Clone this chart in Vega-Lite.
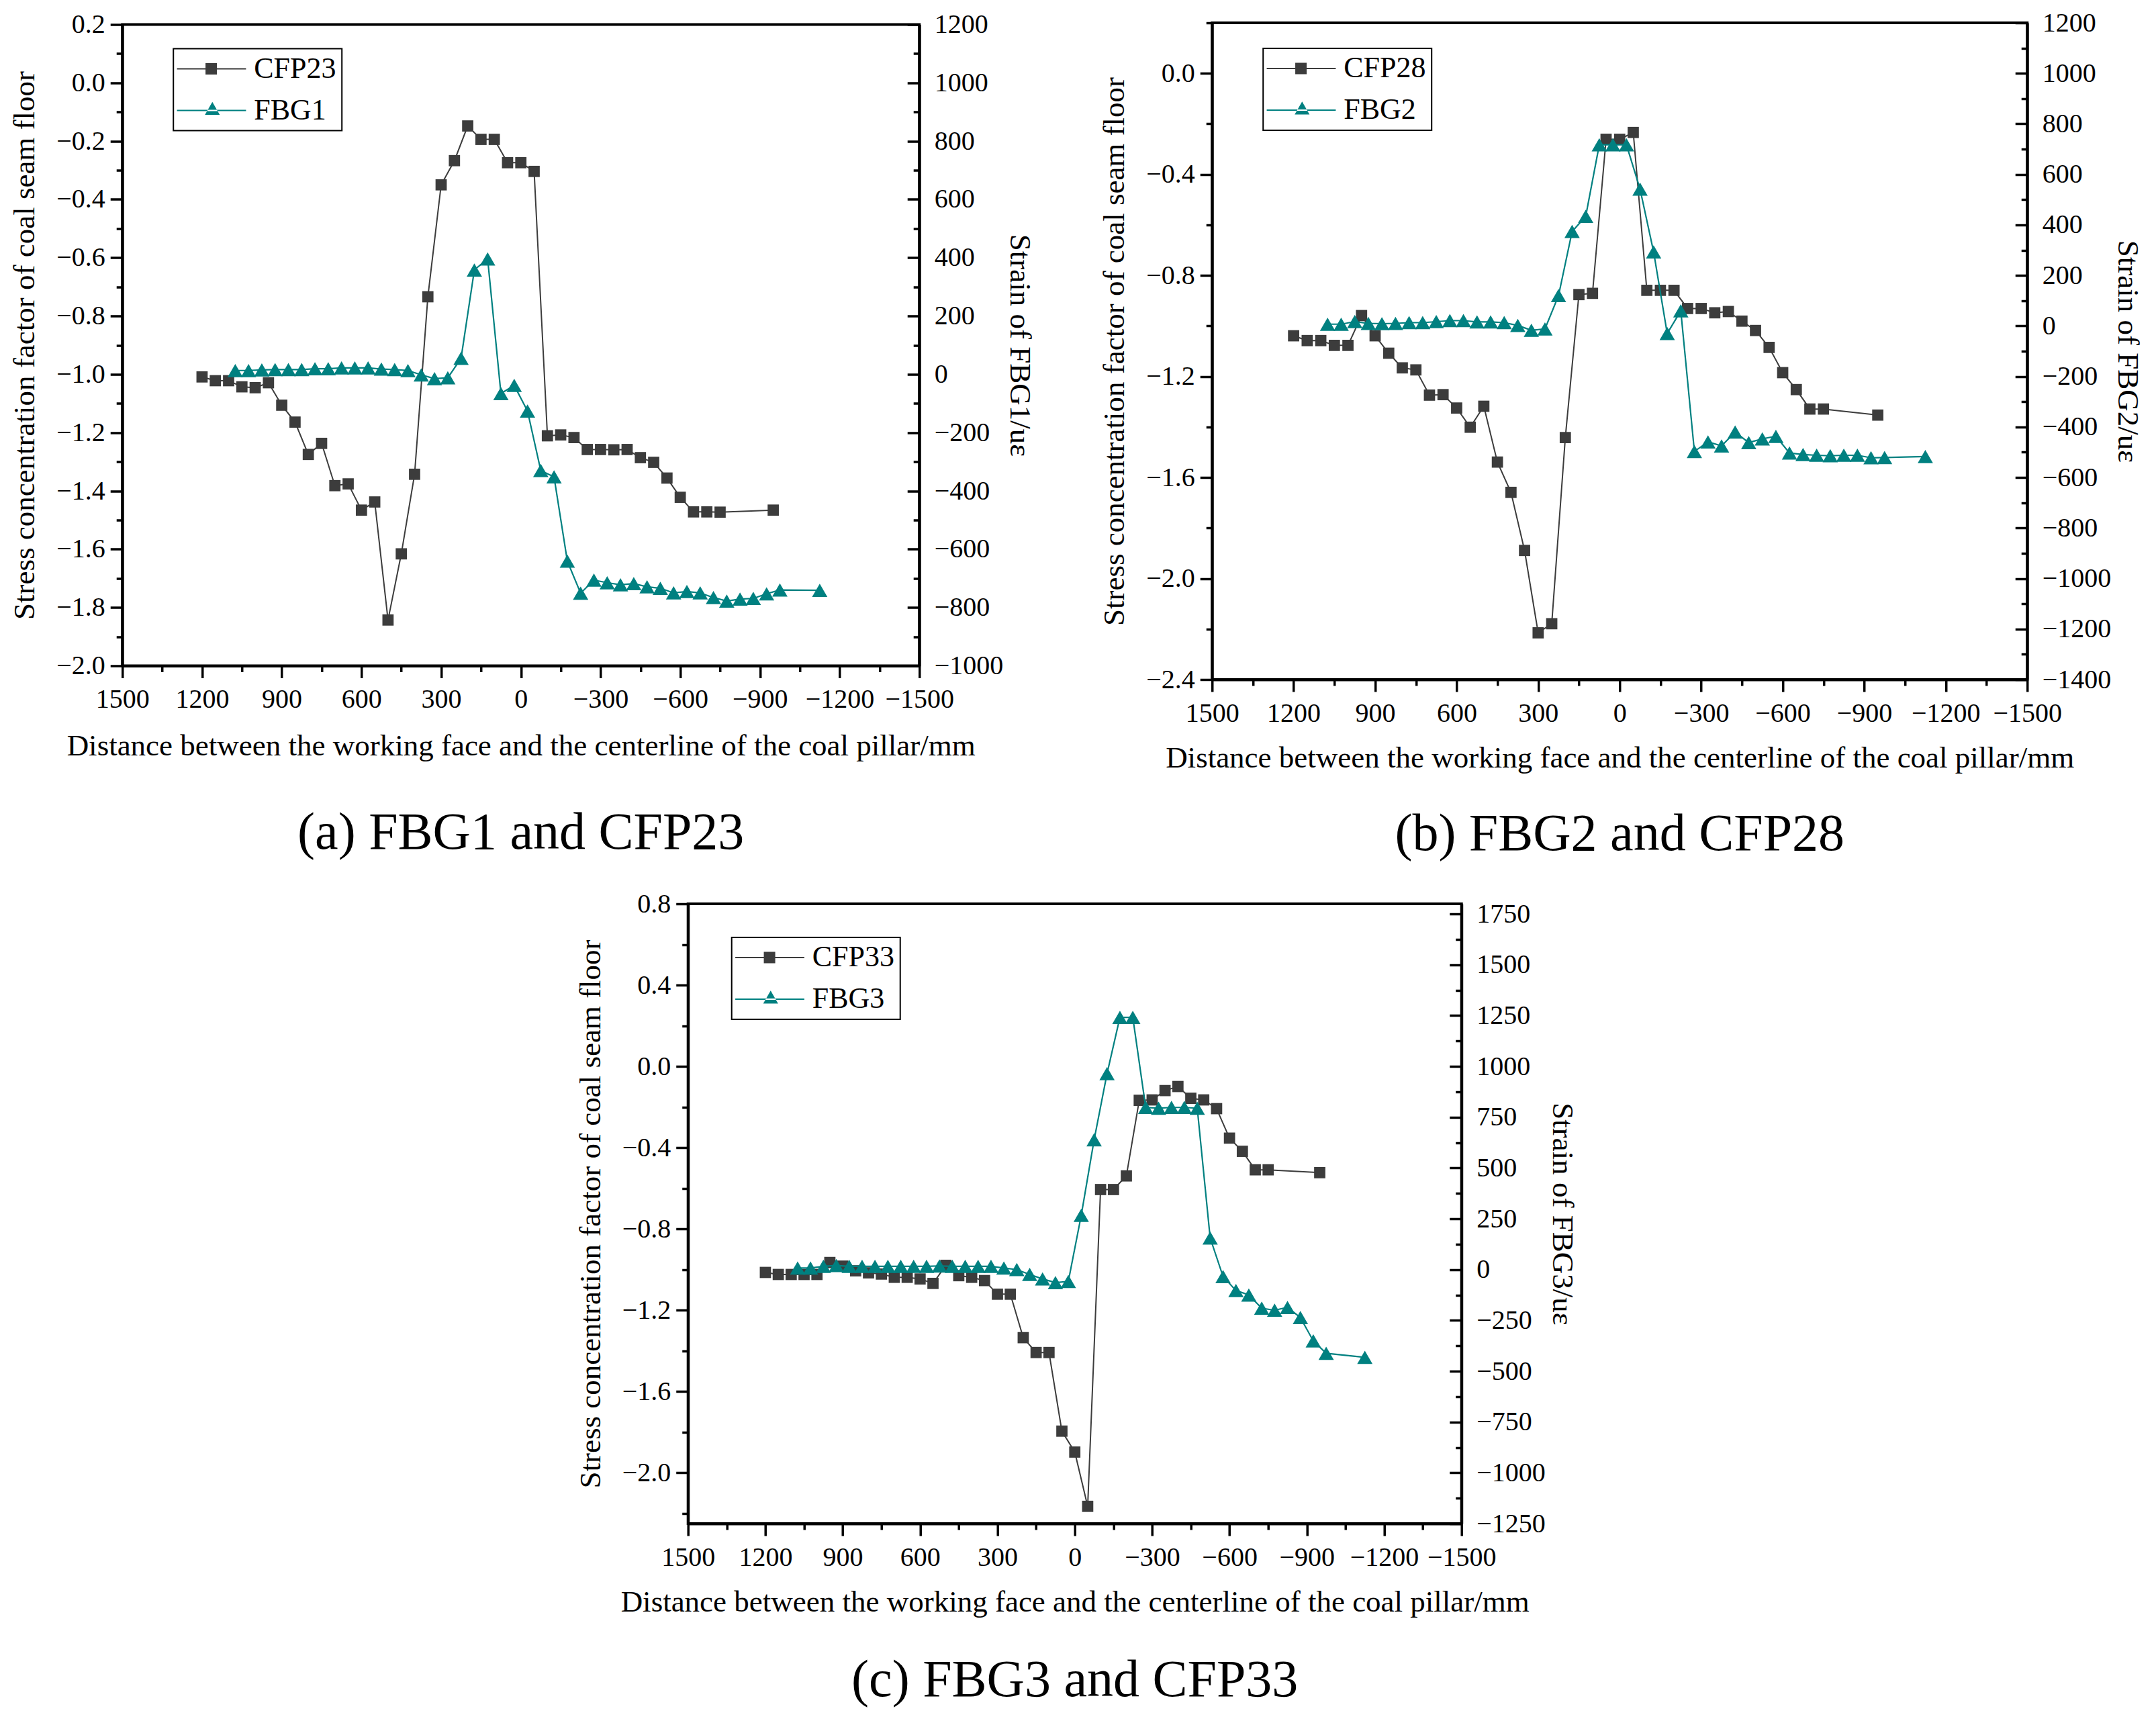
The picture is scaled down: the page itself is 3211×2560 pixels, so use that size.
{
  "$schema": "https://vega.github.io/schema/vega-lite/v6.json",
  "background": "white",
  "padding": {"left": 12, "top": 12, "right": 10, "bottom": 10},
  "datasets": {
    "a_cfp": [
      {"d": 1200, "v": -1.009}, {"d": 1150, "v": -1.022}, {"d": 1100, "v": -1.022}, {"d": 1050, "v": -1.043},
      {"d": 1000, "v": -1.046}, {"d": 950, "v": -1.029}, {"d": 900, "v": -1.106}, {"d": 850, "v": -1.164},
      {"d": 800, "v": -1.275}, {"d": 750, "v": -1.237}, {"d": 700, "v": -1.382}, {"d": 650, "v": -1.376},
      {"d": 600, "v": -1.466}, {"d": 550, "v": -1.438}, {"d": 500, "v": -1.843}, {"d": 450, "v": -1.616},
      {"d": 400, "v": -1.343}, {"d": 350, "v": -0.734}, {"d": 300, "v": -0.35}, {"d": 250, "v": -0.267},
      {"d": 200, "v": -0.148}, {"d": 150, "v": -0.194}, {"d": 100, "v": -0.194}, {"d": 50, "v": -0.274},
      {"d": 0, "v": -0.274}, {"d": -50, "v": -0.304}, {"d": -100, "v": -1.211}, {"d": -150, "v": -1.208},
      {"d": -200, "v": -1.217}, {"d": -250, "v": -1.258}, {"d": -300, "v": -1.258}, {"d": -350, "v": -1.259},
      {"d": -400, "v": -1.258}, {"d": -450, "v": -1.286}, {"d": -500, "v": -1.302}, {"d": -550, "v": -1.356},
      {"d": -600, "v": -1.422}, {"d": -650, "v": -1.472}, {"d": -700, "v": -1.472}, {"d": -750, "v": -1.473},
      {"d": -950, "v": -1.466}
    ],
    "a_fbg": [
      {"d": 1075, "v": 13}, {"d": 1025, "v": 13}, {"d": 975, "v": 15}, {"d": 925, "v": 16},
      {"d": 875, "v": 16}, {"d": 825, "v": 16}, {"d": 775, "v": 19}, {"d": 725, "v": 19},
      {"d": 675, "v": 22}, {"d": 625, "v": 22}, {"d": 575, "v": 22}, {"d": 525, "v": 18},
      {"d": 475, "v": 16}, {"d": 425, "v": 13}, {"d": 375, "v": -2}, {"d": 325, "v": -15},
      {"d": 275, "v": -12}, {"d": 225, "v": 55}, {"d": 175, "v": 358}, {"d": 125, "v": 396},
      {"d": 75, "v": -66}, {"d": 25, "v": -38}, {"d": -25, "v": -126}, {"d": -75, "v": -330},
      {"d": -125, "v": -352}, {"d": -175, "v": -641}, {"d": -225, "v": -751}, {"d": -275, "v": -706},
      {"d": -325, "v": -715}, {"d": -375, "v": -722}, {"d": -425, "v": -718}, {"d": -475, "v": -729},
      {"d": -525, "v": -734}, {"d": -575, "v": -750}, {"d": -625, "v": -745}, {"d": -675, "v": -750},
      {"d": -725, "v": -766}, {"d": -775, "v": -778}, {"d": -825, "v": -771}, {"d": -875, "v": -769},
      {"d": -925, "v": -753}, {"d": -975, "v": -740}, {"d": -1125, "v": -741}
    ],
    "b_cfp": [
      {"d": 1200, "v": -1.039}, {"d": 1150, "v": -1.058}, {"d": 1100, "v": -1.058}, {"d": 1050, "v": -1.077},
      {"d": 1000, "v": -1.077}, {"d": 950, "v": -0.959}, {"d": 900, "v": -1.039}, {"d": 850, "v": -1.108},
      {"d": 800, "v": -1.166}, {"d": 750, "v": -1.174}, {"d": 700, "v": -1.274}, {"d": 650, "v": -1.272},
      {"d": 600, "v": -1.325}, {"d": 550, "v": -1.401}, {"d": 500, "v": -1.318}, {"d": 450, "v": -1.539},
      {"d": 400, "v": -1.659}, {"d": 350, "v": -1.889}, {"d": 300, "v": -2.215}, {"d": 250, "v": -2.179},
      {"d": 200, "v": -1.442}, {"d": 150, "v": -0.876}, {"d": 100, "v": -0.871}, {"d": 50, "v": -0.261},
      {"d": 0, "v": -0.261}, {"d": -50, "v": -0.234}, {"d": -100, "v": -0.859}, {"d": -150, "v": -0.859},
      {"d": -200, "v": -0.859}, {"d": -250, "v": -0.931}, {"d": -300, "v": -0.931}, {"d": -350, "v": -0.948},
      {"d": -400, "v": -0.943}, {"d": -450, "v": -0.981}, {"d": -500, "v": -1.018}, {"d": -550, "v": -1.085},
      {"d": -600, "v": -1.185}, {"d": -650, "v": -1.252}, {"d": -700, "v": -1.329}, {"d": -750, "v": -1.329},
      {"d": -950, "v": -1.353}
    ],
    "b_fbg": [
      {"d": 1075, "v": 7}, {"d": 1025, "v": 7}, {"d": 975, "v": 17}, {"d": 925, "v": 10},
      {"d": 875, "v": 9}, {"d": 825, "v": 10}, {"d": 775, "v": 13}, {"d": 725, "v": 13},
      {"d": 675, "v": 17}, {"d": 625, "v": 21}, {"d": 575, "v": 21}, {"d": 525, "v": 16},
      {"d": 475, "v": 16}, {"d": 425, "v": 13}, {"d": 375, "v": 2}, {"d": 325, "v": -17},
      {"d": 275, "v": -12}, {"d": 225, "v": 120}, {"d": 175, "v": 374}, {"d": 125, "v": 434},
      {"d": 75, "v": 717}, {"d": 25, "v": 717}, {"d": -25, "v": 717}, {"d": -75, "v": 542},
      {"d": -125, "v": 293}, {"d": -175, "v": -30}, {"d": -225, "v": 60}, {"d": -275, "v": -497},
      {"d": -325, "v": -459}, {"d": -375, "v": -475}, {"d": -425, "v": -420}, {"d": -475, "v": -462},
      {"d": -525, "v": -447}, {"d": -575, "v": -437}, {"d": -625, "v": -503}, {"d": -675, "v": -509},
      {"d": -725, "v": -512}, {"d": -775, "v": -514}, {"d": -825, "v": -512}, {"d": -875, "v": -512},
      {"d": -925, "v": -522}, {"d": -975, "v": -521}, {"d": -1125, "v": -517}
    ],
    "c_cfp": [
      {"d": 1200, "v": -1.014}, {"d": 1150, "v": -1.024}, {"d": 1100, "v": -1.024}, {"d": 1050, "v": -1.024},
      {"d": 1000, "v": -1.024}, {"d": 950, "v": -0.965}, {"d": 900, "v": -0.983}, {"d": 850, "v": -1.006},
      {"d": 800, "v": -1.016}, {"d": 750, "v": -1.022}, {"d": 700, "v": -1.038}, {"d": 650, "v": -1.038},
      {"d": 600, "v": -1.046}, {"d": 550, "v": -1.068}, {"d": 500, "v": -0.979}, {"d": 450, "v": -1.03},
      {"d": 400, "v": -1.038}, {"d": 350, "v": -1.054}, {"d": 300, "v": -1.121}, {"d": 250, "v": -1.121},
      {"d": 200, "v": -1.335}, {"d": 150, "v": -1.408}, {"d": 100, "v": -1.408}, {"d": 50, "v": -1.795},
      {"d": 0, "v": -1.898}, {"d": -50, "v": -2.165}, {"d": -100, "v": -0.606}, {"d": -150, "v": -0.606},
      {"d": -200, "v": -0.539}, {"d": -250, "v": -0.167}, {"d": -300, "v": -0.165}, {"d": -350, "v": -0.119},
      {"d": -400, "v": -0.099}, {"d": -450, "v": -0.157}, {"d": -500, "v": -0.165}, {"d": -550, "v": -0.208},
      {"d": -600, "v": -0.353}, {"d": -650, "v": -0.418}, {"d": -700, "v": -0.509}, {"d": -750, "v": -0.509},
      {"d": -950, "v": -0.523}
    ],
    "c_fbg": [
      {"d": 1075, "v": 8}, {"d": 1025, "v": 8}, {"d": 975, "v": 16}, {"d": 925, "v": 20},
      {"d": 875, "v": 16}, {"d": 825, "v": 16}, {"d": 775, "v": 16}, {"d": 725, "v": 16},
      {"d": 675, "v": 16}, {"d": 625, "v": 16}, {"d": 575, "v": 16}, {"d": 525, "v": 18},
      {"d": 475, "v": 16}, {"d": 425, "v": 16}, {"d": 375, "v": 16}, {"d": 325, "v": 16},
      {"d": 275, "v": 8}, {"d": 225, "v": 0}, {"d": 175, "v": -24}, {"d": 125, "v": -46},
      {"d": 75, "v": -64}, {"d": 25, "v": -58}, {"d": -25, "v": 267}, {"d": -75, "v": 639},
      {"d": -125, "v": 964}, {"d": -175, "v": 1241}, {"d": -225, "v": 1241}, {"d": -275, "v": 798},
      {"d": -325, "v": 794}, {"d": -375, "v": 798}, {"d": -425, "v": 798}, {"d": -475, "v": 794},
      {"d": -525, "v": 156}, {"d": -575, "v": -34}, {"d": -625, "v": -103}, {"d": -675, "v": -125},
      {"d": -725, "v": -190}, {"d": -775, "v": -200}, {"d": -825, "v": -186}, {"d": -875, "v": -236},
      {"d": -925, "v": -351}, {"d": -975, "v": -412}, {"d": -1125, "v": -432}
    ]
  },
  "vconcat": [
    {
      "hconcat": [
        {
          "width": 1187, "height": 955,
          "title": {"text": "(a) FBG1 and CFP23", "orient": "bottom", "offset": 68},
          "encoding": {
            "x": {"field": "d", "type": "quantitative",
              "scale": {"domain": [-1500, 1500], "reverse": true, "nice": false, "zero": false},
              "axis": {"orient": "bottom", "title": "Distance between the working face and the centerline of the coal pillar/mm",
                "values": [-1500,-1350,-1200,-1050,-900,-750,-600,-450,-300,-150,0,150,300,450,600,750,900,1050,1200,1350,1500],
                "labelExpr": "datum.value % 300 == 0 ? format(datum.value, 'd') : ''",
                "tickSize": {"condition": {"test": "datum.value % 300 == 0", "value": 18}, "value": 9},
                "labelPadding": 12, "titlePadding": 27}}
          },
          "layer": [
            {
              "data": {"name": "a_cfp"},
              "encoding": {
                "y": {"field": "v", "type": "quantitative",
                  "scale": {"domain": [-2, 0.2], "nice": false, "zero": false},
                  "axis": {"orient": "left", "title": "Stress concentration factor of coal seam floor",
                    "values": [-2,-1.9,-1.8,-1.7,-1.6,-1.5,-1.4,-1.3,-1.2,-1.1,-1,-0.9,-0.8,-0.7,-0.6,-0.5,-0.4,-0.3,-0.2,-0.1,0,0.1,0.2],
                    "labelExpr": "abs(round(datum.value*10)) % 2 == 0 ? format(datum.value, '.1f') : ''",
                    "tickSize": {"condition": {"test": "abs(round(datum.value*10)) % 2 == 0", "value": 18}, "value": 9},
                    "labelPadding": 8, "titlePadding": 24}}
              },
              "layer": [
                {"data": {"values": [{}]},
                 "mark": {"type": "rule", "color": "#9b1c1c", "strokeWidth": 2.2, "strokeDash": [9, 6]},
                 "encoding": {"x": {"datum": 1500}, "x2": {"datum": -1500}, "y": {"datum": -1}}},
                {"mark": {"type": "line", "color": "#3c3c3c", "strokeWidth": 2}},
                {"mark": {"type": "point", "shape": "square", "filled": true, "size": 280, "color": "#3c3c3c", "opacity": 1}},
                {"data": {"values": [{"series": "CFP23"}, {"series": "FBG1"}]},
                 "mark": {"type": "point", "filled": true, "size": 0},
                 "encoding": {
                   "color": {"field": "series", "type": "nominal",
                     "scale": {"domain": ["CFP23", "FBG1"], "range": ["#3c3c3c", "#008080"]},
                     "legend": {"orient": "none", "legendX": 76, "legendY": 36, "title": null}},
                   "shape": {"field": "series", "type": "nominal",
                     "scale": {"domain": ["CFP23", "FBG1"], "range": ["M-2.9,-0.13H9.2V0.13H-2.9Z M2.1,-1H4.1V1H2.1Z", "M-2.9,-0.13H9.2V0.13H-2.9Z M2,0.75H4.6L3.3,-1.5Z"]},
                     "legend": {"orient": "none", "legendX": 76, "legendY": 36, "title": null}}
                 }}
              ]
            },
            {
              "data": {"name": "a_fbg"},
              "encoding": {
                "y": {"field": "v", "type": "quantitative",
                  "scale": {"domain": [-1000, 1200], "nice": false, "zero": false},
                  "axis": {"orient": "right", "title": "Strain of FBG1/uε",
                    "values": [-1000,-900,-800,-700,-600,-500,-400,-300,-200,-100,0,100,200,300,400,500,600,700,800,900,1000,1100,1200],
                    "labelExpr": "datum.value % 200 == 0 ? format(datum.value, 'd') : ''",
                    "tickSize": {"condition": {"test": "datum.value % 200 == 0", "value": -18}, "value": -9},
                    "labelPadding": 40, "titlePadding": 2}}
              },
              "layer": [
                {"mark": {"type": "line", "color": "#008080", "strokeWidth": 2.2}},
                {"mark": {"type": "point", "shape": "triangle-up", "filled": true, "size": 520, "color": "#008080", "opacity": 1}}
              ]
            }
          ],
          "resolve": {"scale": {"y": "independent"}}
        },
        {
          "width": 1214, "height": 978,
          "title": {"text": "(b) FBG2 and CFP28", "orient": "bottom", "offset": 53},
          "encoding": {
            "x": {"field": "d", "type": "quantitative",
              "scale": {"domain": [-1500, 1500], "reverse": true, "nice": false, "zero": false},
              "axis": {"orient": "bottom", "title": "Distance between the working face and the centerline of the coal pillar/mm",
                "values": [-1500,-1350,-1200,-1050,-900,-750,-600,-450,-300,-150,0,150,300,450,600,750,900,1050,1200,1350,1500],
                "labelExpr": "datum.value % 300 == 0 ? format(datum.value, 'd') : ''",
                "tickSize": {"condition": {"test": "datum.value % 300 == 0", "value": 18}, "value": 9},
                "labelPadding": 12, "titlePadding": 24}}
          },
          "layer": [
            {
              "data": {"name": "b_cfp"},
              "encoding": {
                "y": {"field": "v", "type": "quantitative",
                  "scale": {"domain": [-2.4, 0.2], "nice": false, "zero": false},
                  "axis": {"orient": "left", "title": "Stress concentration factor of coal seam floor",
                    "values": [-2.4,-2.2,-2,-1.8,-1.6,-1.4,-1.2,-1,-0.8,-0.6,-0.4,-0.2,0,0.2],
                    "labelExpr": "abs(round(datum.value*10)) % 4 == 0 ? format(datum.value, '.1f') : ''",
                    "tickSize": {"condition": {"test": "abs(round(datum.value*10)) % 4 == 0", "value": 18}, "value": 9},
                    "labelPadding": 8, "titlePadding": 24}}
              },
              "layer": [
                {"data": {"values": [{}]},
                 "mark": {"type": "rule", "color": "#9b1c1c", "strokeWidth": 2.2, "strokeDash": [9, 6]},
                 "encoding": {"x": {"datum": 1500}, "x2": {"datum": -1500}, "y": {"datum": -1}}},
                {"mark": {"type": "line", "color": "#3c3c3c", "strokeWidth": 2}},
                {"mark": {"type": "point", "shape": "square", "filled": true, "size": 280, "color": "#3c3c3c", "opacity": 1}},
                {"data": {"values": [{"series": "CFP28"}, {"series": "FBG2"}]},
                 "mark": {"type": "point", "filled": true, "size": 0},
                 "encoding": {
                   "color": {"field": "series", "type": "nominal",
                     "scale": {"domain": ["CFP28", "FBG2"], "range": ["#3c3c3c", "#008080"]},
                     "legend": {"orient": "none", "legendX": 76, "legendY": 38, "title": null}},
                   "shape": {"field": "series", "type": "nominal",
                     "scale": {"domain": ["CFP28", "FBG2"], "range": ["M-2.9,-0.13H9.2V0.13H-2.9Z M2.1,-1H4.1V1H2.1Z", "M-2.9,-0.13H9.2V0.13H-2.9Z M2,0.75H4.6L3.3,-1.5Z"]},
                     "legend": {"orient": "none", "legendX": 76, "legendY": 38, "title": null}}
                 }}
              ]
            },
            {
              "data": {"name": "b_fbg"},
              "encoding": {
                "y": {"field": "v", "type": "quantitative",
                  "scale": {"domain": [-1400, 1200], "nice": false, "zero": false},
                  "axis": {"orient": "right", "title": "Strain of FBG2/uε",
                    "values": [-1400,-1300,-1200,-1100,-1000,-900,-800,-700,-600,-500,-400,-300,-200,-100,0,100,200,300,400,500,600,700,800,900,1000,1100,1200],
                    "labelExpr": "datum.value % 200 == 0 ? format(datum.value, 'd') : ''",
                    "tickSize": {"condition": {"test": "datum.value % 200 == 0", "value": -18}, "value": -9},
                    "labelPadding": 40, "titlePadding": 2}}
              },
              "layer": [
                {"mark": {"type": "line", "color": "#008080", "strokeWidth": 2.2}},
                {"mark": {"type": "point", "shape": "triangle-up", "filled": true, "size": 520, "color": "#008080", "opacity": 1}}
              ]
            }
          ],
          "resolve": {"scale": {"y": "independent"}}
        }
      ],
      "spacing": 92,
      "center": true,
      "resolve": {"scale": {"color": "independent", "shape": "independent"}}
    },
    {
      "width": 1152, "height": 923,
      "title": {"text": "(c) FBG3 and CFP33", "orient": "bottom", "offset": 56},
      "encoding": {
        "x": {"field": "d", "type": "quantitative",
          "scale": {"domain": [-1500, 1500], "reverse": true, "nice": false, "zero": false},
          "axis": {"orient": "bottom", "title": "Distance between the working face and the centerline of the coal pillar/mm",
            "values": [-1500,-1350,-1200,-1050,-900,-750,-600,-450,-300,-150,0,150,300,450,600,750,900,1050,1200,1350,1500],
            "labelExpr": "datum.value % 300 == 0 ? format(datum.value, 'd') : ''",
            "tickSize": {"condition": {"test": "datum.value % 300 == 0", "value": 18}, "value": 9},
            "labelPadding": 12, "titlePadding": 24}}
      },
      "layer": [
        {
          "data": {"name": "c_cfp"},
          "encoding": {
            "y": {"field": "v", "type": "quantitative",
              "scale": {"domain": [-2.25, 0.8], "nice": false, "zero": false},
              "axis": {"orient": "left", "title": "Stress concentration factor of coal seam floor",
                "values": [-2.2,-2,-1.8,-1.6,-1.4,-1.2,-1,-0.8,-0.6,-0.4,-0.2,0,0.2,0.4,0.6,0.8],
                "labelExpr": "abs(round(datum.value*10)) % 4 == 0 ? format(datum.value, '.1f') : ''",
                "tickSize": {"condition": {"test": "abs(round(datum.value*10)) % 4 == 0", "value": 18}, "value": 9},
                "labelPadding": 8, "titlePadding": 24}}
          },
          "layer": [
            {"data": {"values": [{}]},
             "mark": {"type": "rule", "color": "#9b1c1c", "strokeWidth": 2.2, "strokeDash": [9, 6]},
             "encoding": {"x": {"datum": 1500}, "x2": {"datum": -1500}, "y": {"datum": -1}}},
            {"mark": {"type": "line", "color": "#3c3c3c", "strokeWidth": 2}},
            {"mark": {"type": "point", "shape": "square", "filled": true, "size": 280, "color": "#3c3c3c", "opacity": 1}},
            {"data": {"values": [{"series": "CFP33"}, {"series": "FBG3"}]},
             "mark": {"type": "point", "filled": true, "size": 0},
             "encoding": {
               "color": {"field": "series", "type": "nominal",
                 "scale": {"domain": ["CFP33", "FBG3"], "range": ["#3c3c3c", "#008080"]},
                 "legend": {"orient": "none", "legendX": 65, "legendY": 50, "title": null}},
               "shape": {"field": "series", "type": "nominal",
                 "scale": {"domain": ["CFP33", "FBG3"], "range": ["M-2.9,-0.13H9.2V0.13H-2.9Z M2.1,-1H4.1V1H2.1Z", "M-2.9,-0.13H9.2V0.13H-2.9Z M2,0.75H4.6L3.3,-1.5Z"]},
                 "legend": {"orient": "none", "legendX": 65, "legendY": 50, "title": null}}
             }}
          ]
        },
        {
          "data": {"name": "c_fbg"},
          "encoding": {
            "y": {"field": "v", "type": "quantitative",
              "scale": {"domain": [-1250, 1800], "nice": false, "zero": false},
              "axis": {"orient": "right", "title": "Strain of FBG3/uε",
                "values": [-1250,-1125,-1000,-875,-750,-625,-500,-375,-250,-125,0,125,250,375,500,625,750,875,1000,1125,1250,1375,1500,1625,1750],
                "labelExpr": "datum.value % 250 == 0 ? format(datum.value, 'd') : ''",
                "tickSize": {"condition": {"test": "datum.value % 250 == 0", "value": -18}, "value": -9},
                "labelPadding": 40, "titlePadding": 2}}
          },
          "layer": [
            {"mark": {"type": "line", "color": "#008080", "strokeWidth": 2.2}},
            {"mark": {"type": "point", "shape": "triangle-up", "filled": true, "size": 520, "color": "#008080", "opacity": 1}}
          ]
        }
      ],
      "resolve": {"scale": {"y": "independent"}}
    }
  ],
  "spacing": 40,
  "center": true,
  "resolve": {"scale": {"color": "independent", "shape": "independent"}},
  "config": {
    "font": "Liberation Serif",
    "view": {"stroke": "black", "strokeWidth": 4},
    "title": {"font": "Liberation Serif", "fontSize": 78, "fontWeight": "normal", "color": "black", "anchor": "middle", "frame": "group"},
    "axis": {
      "grid": false, "domainColor": "black", "domainWidth": 4, "tickColor": "black", "tickWidth": 3.5,
      "labelFont": "Liberation Serif", "labelFontSize": 40, "labelColor": "black",
      "titleFont": "Liberation Serif", "titleFontSize": 45, "titleFontWeight": "normal", "titleColor": "black",
      "labelFlush": false, "labelOverlap": false
    },
    "legend": {
      "strokeColor": "black", "strokeWidth": 2, "padding": 8, "symbolSize": 289, "symbolStrokeWidth": 0,
      "symbolOpacity": 1, "labelFont": "Liberation Serif", "labelFontSize": 44, "labelColor": "black",
      "labelOffset": 68, "rowPadding": 18
    }
  }
}
